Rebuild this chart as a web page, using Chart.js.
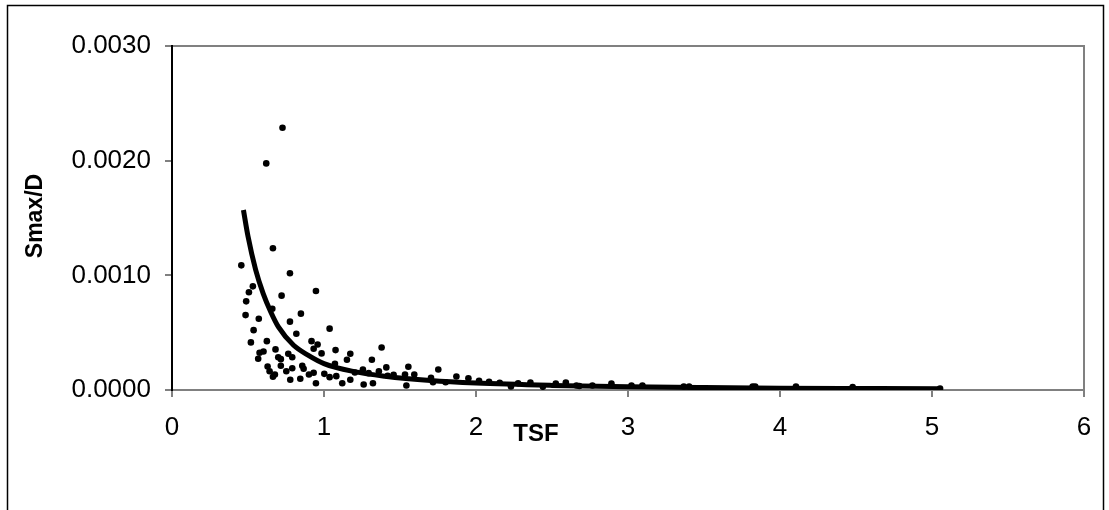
<!DOCTYPE html>
<html>
<head>
<meta charset="utf-8">
<script src="https://cdn.jsdelivr.net/npm/chart.js@4/dist/chart.umd.min.js"></script>
<style>
  html, body { margin: 0; padding: 0; background: #ffffff; }
  #wrap { width: 1109px; height: 510px; position: relative; }
</style>
</head>
<body>
<div id="wrap"><canvas id="chart" width="1109" height="510"></canvas></div>
<script>
const xTicks = [0, 1, 2, 3, 4, 5, 6];
const yTicks = [0, 0.001, 0.002, 0.003];
const xTitle = 'TSF';
const yTitle = 'Smax/D';

// measured points (TSF, Smax/D)
const tsfValues = [
  0.727, 0.620, 0.456, 0.664, 0.776, 0.947, 0.532, 0.506, 0.488, 0.484,
  0.721, 0.660, 0.571, 0.848, 0.776, 0.537, 1.037, 0.818, 0.519, 0.624,
  0.918, 0.958, 0.932, 1.379, 0.681, 0.602, 0.576, 1.076, 0.984, 1.173,
  0.765, 0.791, 0.699, 0.567, 0.716, 1.151, 1.315, 1.072, 0.716, 0.629,
  0.857, 0.791, 1.555, 1.410, 1.256, 1.752, 0.642, 0.752, 0.866, 1.203,
  1.361, 0.677, 0.664, 0.901, 0.932, 1.002, 1.037, 1.081, 0.844, 0.778,
  1.120, 0.947, 1.294, 1.458, 1.533, 1.594, 1.261, 1.322, 1.173, 1.419,
  1.704, 1.871, 1.950, 2.020, 2.086, 2.156, 1.800, 1.717, 1.542, 2.277,
  2.358, 2.525, 2.591, 2.661, 2.766, 2.891, 3.023, 3.095, 3.367, 3.402,
  3.820, 3.837, 4.105, 4.478, 5.053, 2.230, 2.440, 2.680
];
const smaxValues = [
  0.002287, 0.001976, 0.001087, 0.001236, 0.001018, 0.000863, 0.000904, 0.000852, 0.000773, 0.000653,
  0.000823, 0.000709, 0.000622, 0.000666, 0.000596, 0.000522, 0.000535, 0.000491, 0.000415, 0.000426,
  0.000426, 0.000397, 0.000360, 0.000371, 0.000354, 0.000336, 0.000325, 0.000348, 0.000319, 0.000316,
  0.000316, 0.000286, 0.000286, 0.000272, 0.000269, 0.000264, 0.000264, 0.000229, 0.000211, 0.000205,
  0.000211, 0.000190, 0.000203, 0.000197, 0.000179, 0.000179, 0.000164, 0.000164, 0.000185, 0.000153,
  0.000164, 0.000135, 0.000115, 0.000135, 0.000150, 0.000141, 0.000112, 0.000121, 0.000098, 0.000089,
  0.000059, 0.000059, 0.000147, 0.000133, 0.000135, 0.000135, 0.000048, 0.000059, 0.000089, 0.000124,
  0.000107, 0.000118, 0.000103, 0.000080, 0.000072, 0.000063, 0.000068, 0.000068, 0.000039, 0.000059,
  0.000066, 0.000057, 0.000066, 0.000039, 0.000039, 0.000057, 0.000039, 0.000039, 0.000031, 0.000031,
  0.000031, 0.000031, 0.000031, 0.000026, 0.000013, 0.000030, 0.000028, 0.000035
];

// fitted curve
const curveTsf = [0.47, 0.50, 0.55, 0.60, 0.65, 0.70, 0.80, 0.90, 1.00, 1.20, 1.40, 1.70, 2.00, 2.50, 3.00, 3.50, 4.00, 4.50, 5.05];
const curveSmax = [0.00157, 0.00134, 0.00105, 0.00084, 0.00068, 0.00055, 0.00039, 0.00030, 0.00023, 0.00016, 0.00012, 0.000082, 0.000060, 0.000040, 0.000028, 0.000021, 0.000016, 0.000013, 0.000010];

const FONT = 'Arial, "Liberation Sans", sans-serif';

function toPoints(xs, ys) {
  return xs.map((x, i) => ({ x, y: ys[i] }));
}

const frame = {
  id: 'frame',
  beforeDraw(chart) {
    const { ctx, chartArea: a } = chart;
    ctx.save();
    ctx.fillStyle = '#ffffff';
    ctx.fillRect(0, 0, chart.width, chart.height);
    ctx.strokeStyle = '#000000';
    ctx.lineWidth = 1.5;
    ctx.strokeRect(7.5, 5.5, 1096, 540);
    ctx.strokeStyle = '#808080';
    ctx.lineWidth = 2;
    ctx.strokeRect(a.left, a.top, a.right - a.left, a.bottom - a.top);
    ctx.restore();
  },
  afterDraw(chart) {
    const { ctx } = chart;
    ctx.save();
    ctx.fillStyle = '#000000';
    ctx.textAlign = 'center';
    ctx.textBaseline = 'middle';
    ctx.font = 'bold 24px ' + FONT;
    ctx.fillText(xTitle, 536, 434);
    ctx.font = 'bold 23px ' + FONT;
    ctx.translate(36, 216);
    ctx.rotate(-Math.PI / 2);
    ctx.fillText(yTitle, 0, 0);
    ctx.restore();
  }
};

new Chart(document.getElementById('chart'), {
  type: 'scatter',
  data: {
    datasets: [
      {
        label: 'fit',
        data: toPoints(curveTsf, curveSmax),
        showLine: true,
        borderColor: '#000000',
        borderWidth: 5,
        pointRadius: 0,
        cubicInterpolationMode: 'monotone',
        order: 0
      },
      {
        label: 'data',
        data: toPoints(tsfValues, smaxValues),
        backgroundColor: '#000000',
        borderColor: '#000000',
        borderWidth: 0,
        pointRadius: 3.3,
        order: 1
      }
    ]
  },
  options: {
    responsive: false,
    animation: false,
    layout: { padding: { left: 0, top: 46, right: 25, bottom: 0 } },
    plugins: {
      legend: { display: false },
      tooltip: { enabled: false }
    },
    scales: {
      x: {
        type: 'linear',
        min: 0,
        max: 6,
        afterBuildTicks: (scale) => { scale.ticks = xTicks.map((v) => ({ value: v })); },
        afterFit: (scale) => { scale.height = 120; },
        ticks: {
          color: '#000000',
          font: { family: FONT, size: 26 },
          padding: 15,
          maxRotation: 0
        },
        grid: { drawOnChartArea: false, color: '#808080', tickLength: 7, lineWidth: 2 },
        border: { display: true, color: '#808080', width: 2 }
      },
      y: {
        type: 'linear',
        min: 0,
        max: 0.003,
        afterBuildTicks: (scale) => { scale.ticks = yTicks.map((v) => ({ value: v })); },
        afterFit: (scale) => { scale.width = 172; },
        ticks: {
          color: '#000000',
          font: { family: FONT, size: 26 },
          padding: 14,
          callback: (v) => Number(v).toFixed(4)
        },
        grid: { drawOnChartArea: false, color: '#808080', tickLength: 7, lineWidth: 2 },
        border: { display: true, color: '#000000', width: 2 }
      }
    }
  },
  plugins: [frame]
});
</script>
</body>
</html>
